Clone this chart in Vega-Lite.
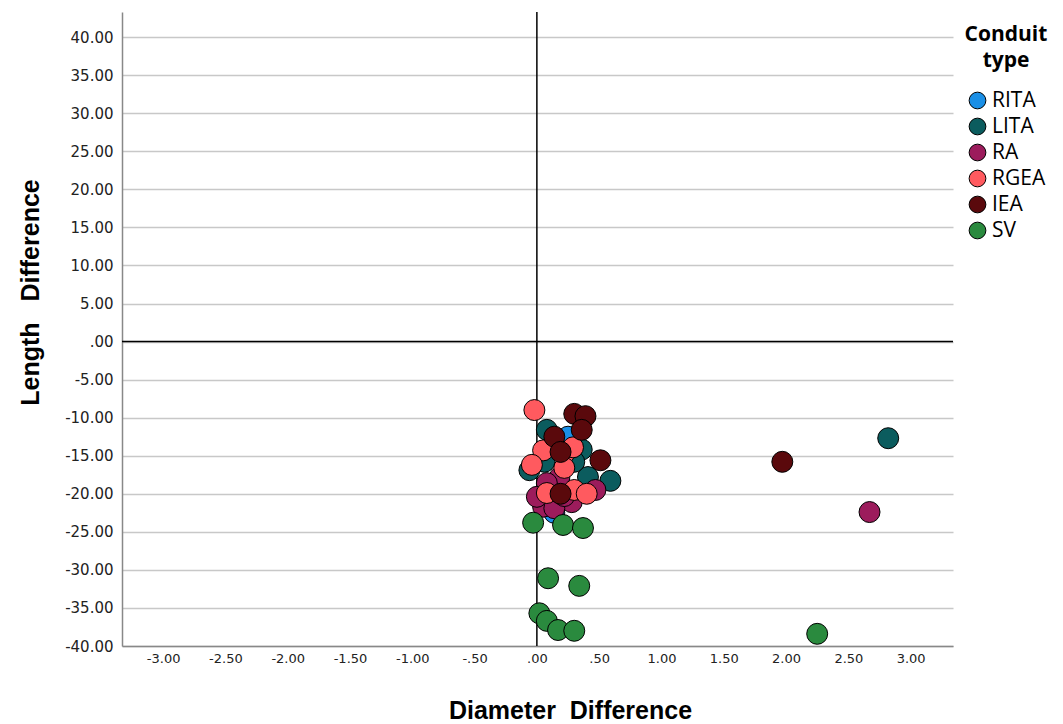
{
  "$schema": "https://vega.github.io/schema/vega-lite/v6.json",
  "autosize": "none",
  "width": 831,
  "height": 634,
  "padding": {"left": 122, "top": 12, "right": 110, "bottom": 78},
  "background": "white",
  "config": {"view": {"stroke": null}},
  "datasets": {
    "pts": [
      {"type": "RITA", "dx": 0.25, "dl": -12.5},
      {"type": "RITA", "dx": 0.14, "dl": -22.5},
      {"type": "LITA", "dx": 2.82, "dl": -12.7},
      {"type": "LITA", "dx": 0.08, "dl": -11.6},
      {"type": "LITA", "dx": 0.36, "dl": -14.2},
      {"type": "LITA", "dx": 0.41, "dl": -17.8},
      {"type": "LITA", "dx": 0.59, "dl": -18.3},
      {"type": "LITA", "dx": -0.06, "dl": -16.9},
      {"type": "LITA", "dx": 0.06, "dl": -15.8},
      {"type": "LITA", "dx": 0.30, "dl": -15.8},
      {"type": "RA", "dx": 2.67, "dl": -22.4},
      {"type": "RA", "dx": 0.18, "dl": -17.9},
      {"type": "RA", "dx": 0.08, "dl": -18.6},
      {"type": "RA", "dx": 0.47, "dl": -19.5},
      {"type": "RA", "dx": 0.05, "dl": -21.7},
      {"type": "RA", "dx": 0.28, "dl": -21.1},
      {"type": "RA", "dx": 0.14, "dl": -21.9},
      {"type": "RA", "dx": 0.22, "dl": -20.3},
      {"type": "RA", "dx": 0.0, "dl": -20.4},
      {"type": "RGEA", "dx": -0.02, "dl": -9.0},
      {"type": "RGEA", "dx": 0.05, "dl": -14.3},
      {"type": "RGEA", "dx": 0.22, "dl": -14.7},
      {"type": "RGEA", "dx": 0.29, "dl": -13.9},
      {"type": "RGEA", "dx": -0.04, "dl": -16.2},
      {"type": "RGEA", "dx": 0.22, "dl": -16.6},
      {"type": "RGEA", "dx": 0.08, "dl": -19.9},
      {"type": "RGEA", "dx": 0.30, "dl": -19.5},
      {"type": "RGEA", "dx": 0.40, "dl": -20.0},
      {"type": "IEA", "dx": 1.97, "dl": -15.8},
      {"type": "IEA", "dx": 0.30, "dl": -9.5},
      {"type": "IEA", "dx": 0.39, "dl": -9.8},
      {"type": "IEA", "dx": 0.36, "dl": -11.6},
      {"type": "IEA", "dx": 0.14, "dl": -12.5},
      {"type": "IEA", "dx": 0.19, "dl": -14.5},
      {"type": "IEA", "dx": 0.51, "dl": -15.6},
      {"type": "IEA", "dx": 0.19, "dl": -20.0},
      {"type": "SV", "dx": 2.25, "dl": -38.4},
      {"type": "SV", "dx": -0.03, "dl": -23.8},
      {"type": "SV", "dx": 0.21, "dl": -24.1},
      {"type": "SV", "dx": 0.37, "dl": -24.5},
      {"type": "SV", "dx": 0.09, "dl": -31.1},
      {"type": "SV", "dx": 0.34, "dl": -32.1},
      {"type": "SV", "dx": 0.02, "dl": -35.7},
      {"type": "SV", "dx": 0.08, "dl": -36.7},
      {"type": "SV", "dx": 0.17, "dl": -37.9},
      {"type": "SV", "dx": 0.30, "dl": -38.0}
    ],
    "zeroX": [{"v": 0}],
    "zeroY": [{"v": 0}]
  },
  "layer": [
    {
      "data": {"name": "zeroX"},
      "mark": {"type": "rule", "color": "black", "strokeWidth": 1.5},
      "encoding": {"x": {"field": "v", "type": "quantitative"}}
    },
    {
      "data": {"name": "zeroY"},
      "mark": {"type": "rule", "color": "black", "strokeWidth": 1.5},
      "encoding": {
        "y": {
          "field": "v", "type": "quantitative",
          "axis": {
            "values": [-40, -35, -30, -25, -20, -15, -10, -5, 0, 5, 10, 15, 20, 25, 30, 35, 40],
            "labelOverlap": false
          }
        }
      }
    },
    {
      "data": {"name": "pts"},
      "mark": {"type": "point", "filled": true, "opacity": 1, "stroke": "black", "strokeWidth": 1, "size": 440, "shape": "circle"},
      "encoding": {
        "x": {
          "field": "dx", "type": "quantitative",
          "scale": {"domain": [-3.33, 3.34], "nice": false, "zero": false},
          "axis": {
            "title": "Diameter\u00a0\u00a0Difference",
            "titleFont": "Liberation Sans", "titleFontSize": 25, "titleFontWeight": "bold", "titleColor": "black",
            "titlePadding": 33, "titleX": 448,
            "values": [-3, -2.5, -2, -1.5, -1, -0.5, 0, 0.5, 1, 1.5, 2, 2.5, 3],
            "labelExpr": "(datum.value < 0 ? '-' : '') + replace(format(abs(datum.value), '.2f'), regexp('^0'), '')",
            "labelFont": "DejaVu Sans", "labelFontSize": 13, "labelColor": "#222",
            "labelPadding": 6, "labelOverlap": false,
            "grid": false, "ticks": false,
            "domainColor": "#888", "domainWidth": 1.5
          }
        },
        "y": {
          "field": "dl", "type": "quantitative",
          "scale": {"domain": [-40, 43.3], "nice": false, "zero": false},
          "axis": {
            "title": "Length\u00a0\u00a0\u00a0Difference",
            "titleFont": "Liberation Sans", "titleFontSize": 25, "titleFontWeight": "bold", "titleColor": "black",
            "titlePadding": 21, "titleY": 280,
            "values": [-40, -35, -30, -25, -20, -15, -10, -5, 0, 5, 10, 15, 20, 25, 30, 35, 40],
            "labelExpr": "(datum.value < 0 ? '-' : '') + replace(format(abs(datum.value), '.2f'), regexp('^0'), '')",
            "labelFont": "DejaVu Sans", "labelFontSize": 15, "labelColor": "#222",
            "labelPadding": 9, "labelOverlap": false,
            "grid": true, "gridColor": "#c8c8c8", "gridWidth": 1.5,
            "ticks": false,
            "domainColor": "#888", "domainWidth": 1.5
          }
        },
        "color": {
          "field": "type", "type": "nominal",
          "scale": {
            "domain": ["RITA", "LITA", "RA", "RGEA", "IEA", "SV"],
            "range": ["#1a8fe6", "#0b5c5e", "#9c1c5c", "#ff5a5f", "#5a090c", "#2a8a3e"]
          },
          "legend": {
            "orient": "none", "legendX": 843, "legendY": 12,
            "title": ["Conduit", "type"],
            "titleFont": "Open Sans", "titleFontSize": 21, "titleFontWeight": "bold", "titleColor": "black",
            "titleAlign": "center", "titleAnchor": "middle", "titleLineHeight": 26,
            "labelFont": "Open Sans", "labelFontSize": 21, "labelColor": "black",
            "symbolType": "circle", "symbolSize": 280, "symbolStrokeColor": "black", "symbolStrokeWidth": 1,
            "symbolOpacity": 1,
            "rowPadding": 4, "labelOffset": 4,
            "padding": 0, "titlePadding": 19
          }
        }
      }
    }
  ]
}
